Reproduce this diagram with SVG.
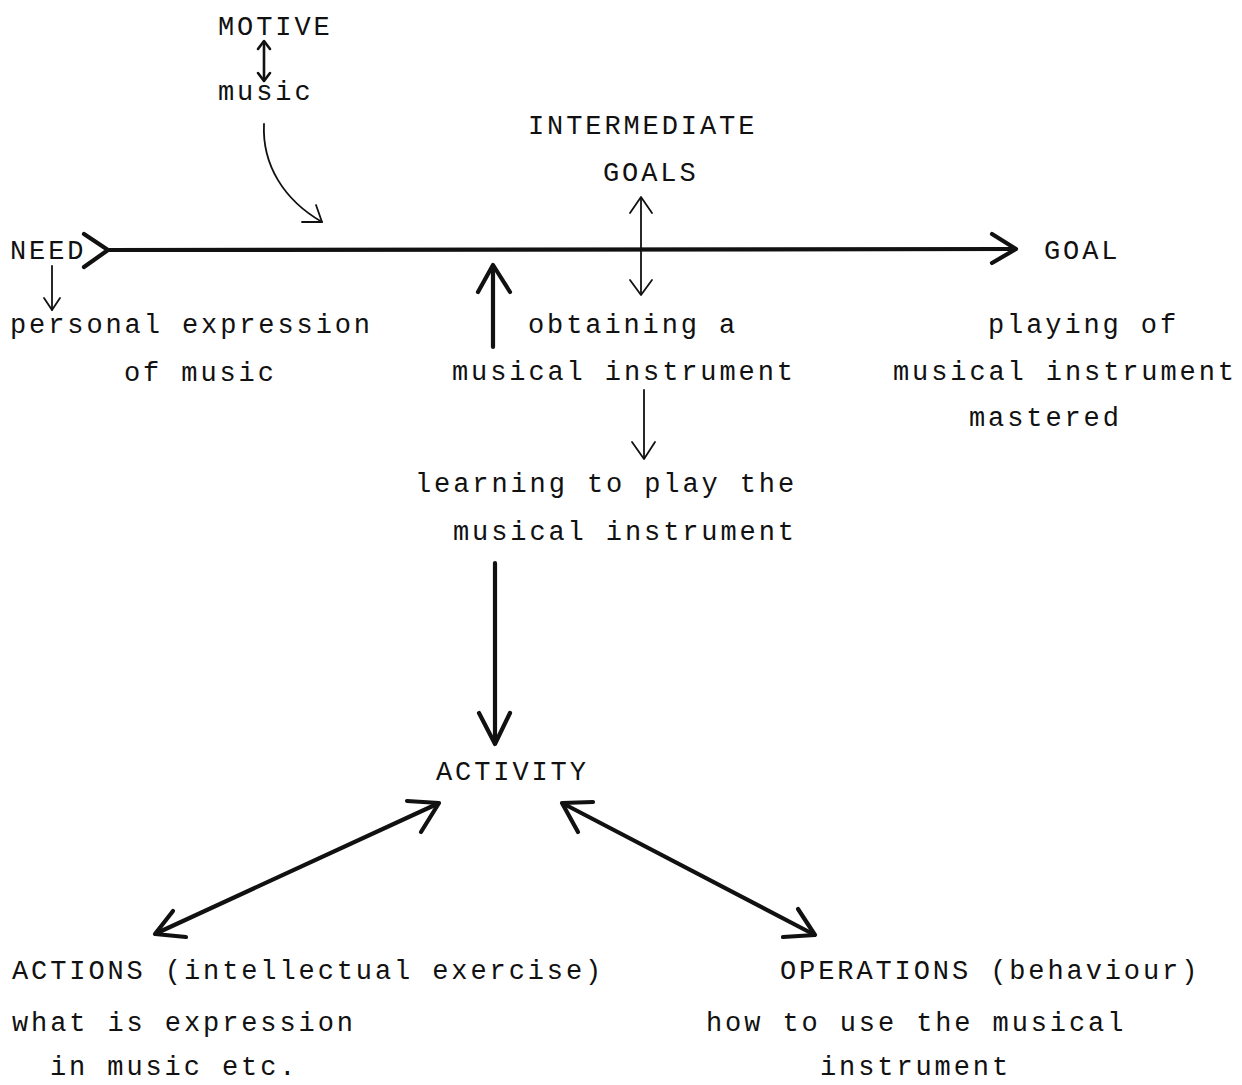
<svg xmlns="http://www.w3.org/2000/svg" width="1242" height="1085" viewBox="0 0 1242 1085">
<style>
text { font-family: "Liberation Mono", "DejaVu Sans Mono", monospace; font-size: 27px; letter-spacing: 2.9px; fill: #111; }
.thin { stroke: #111; stroke-width: 1.8; fill: none; stroke-linecap: round; stroke-linejoin: round; }
.mid { stroke: #111; stroke-width: 2.6; fill: none; stroke-linecap: round; stroke-linejoin: round; }
.thick { stroke: #111; stroke-width: 4.2; fill: none; stroke-linecap: round; stroke-linejoin: round; }
</style>
<rect width="1242" height="1085" fill="#ffffff"/>
<g id="connectors">
  <!-- main line NEED -> GOAL -->
  <path class="thick" d="M108 250 L1015 249"/>
  <polyline class="thick" points="84,234 108,250 84,267"/>
  <polyline class="thick" points="992,234 1016,249 992,263"/>
  <!-- MOTIVE <-> music -->
  <path class="mid" d="M264 42 L264 80"/>
  <polyline class="mid" points="258,49 264,41 270,49"/>
  <polyline class="mid" points="258,73 264,81 270,73"/>
  <!-- music curved arrow -->
  <path class="thin" d="M264 124 C 262 165, 284 200, 322 222"/>
  <polyline class="thin" points="302,222 322,222 316,205"/>
  <!-- NEED down -->
  <path class="thin" d="M52 266 L52 310"/>
  <polyline class="thin" points="44,298 52,310 60,298"/>
  <!-- thick up arrow -->
  <path class="thick" d="M493 347 L493 267"/>
  <polyline class="thick" points="478,292 493,265 510,292"/>
  <!-- intermediate goals double arrow -->
  <path class="thin" d="M641 198 L641 294"/>
  <polyline class="thin" points="630,213 641,197 652,213"/>
  <polyline class="thin" points="630,280 641,295 652,280"/>
  <!-- obtaining -> learning -->
  <path class="thin" d="M644 390 L644 458"/>
  <polyline class="thin" points="632,442 644,459 655,442"/>
  <!-- thick down to ACTIVITY -->
  <path class="thick" d="M495 563 L495 742"/>
  <polyline class="thick" points="479,713 495,744 510,713"/>
  <!-- ACTIVITY <-> ACTIONS -->
  <path class="thick" d="M437 804 L157 933"/>
  <polyline class="thick" points="407,801 439,803 421,832"/>
  <polyline class="thick" points="173,911 155,934 186,937"/>
  <!-- ACTIVITY <-> OPERATIONS -->
  <path class="thick" d="M564 804 L813 934"/>
  <polyline class="thick" points="593,802 562,803 578,832"/>
  <polyline class="thick" points="798,909 815,935 783,937"/>
</g>
<g id="motive"><text x="218" y="35">MOTIVE</text></g>
<g id="music"><text x="218" y="100">music</text></g>
<g id="intermediate-goals"><text x="528" y="134">INTERMEDIATE</text><text x="603" y="181">GOALS</text></g>
<g id="need"><text x="10" y="259">NEED</text></g>
<g id="goal"><text x="1044" y="259">GOAL</text></g>
<g id="personal-expression"><text x="10" y="333">personal expression</text><text x="124" y="381">of music</text></g>
<g id="obtaining"><text x="528" y="333">obtaining a</text><text x="452" y="380">musical instrument</text></g>
<g id="playing"><text x="988" y="333">playing of</text><text x="893" y="380">musical instrument</text><text x="969" y="426">mastered</text></g>
<g id="learning"><text x="415" y="492">learning to play the</text><text x="453" y="540">musical instrument</text></g>
<g id="activity"><text x="436" y="780">ACTIVITY</text></g>
<g id="actions"><text x="12" y="979">ACTIONS (intellectual exercise)</text><text x="12" y="1031">what is expression</text><text x="50" y="1075">in music etc.</text></g>
<g id="operations"><text x="780" y="979">OPERATIONS (behaviour)</text><text x="706" y="1031">how to use the musical</text><text x="820" y="1075">instrument</text></g>
</svg>
